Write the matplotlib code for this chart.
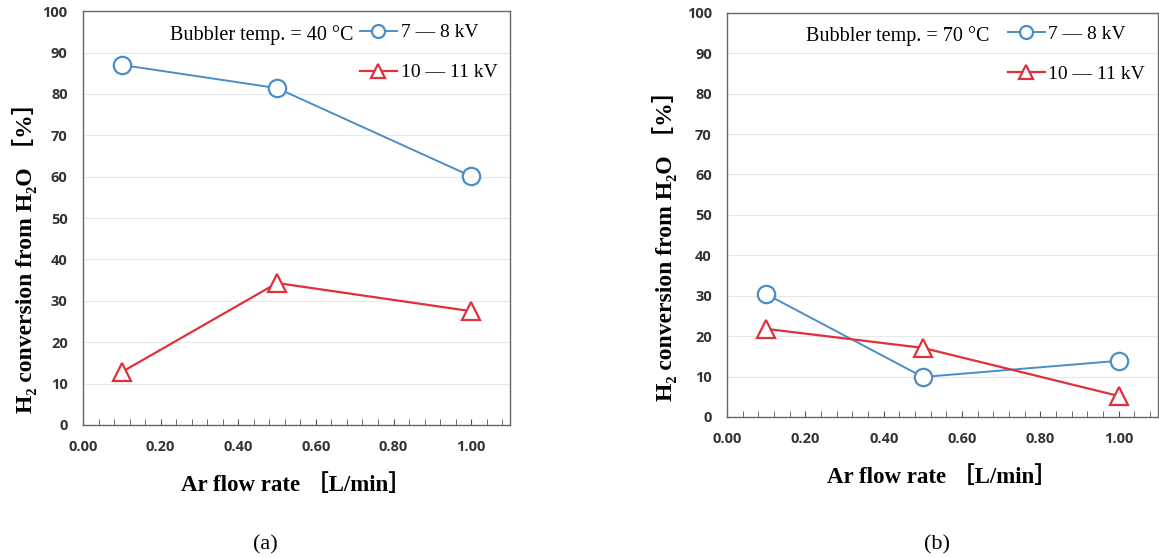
import numpy as np
import matplotlib.pyplot as plt
from matplotlib.ticker import MultipleLocator

flow = [0.1, 0.5, 1.0]

# bubbler temp 40 C
low_kv_40 = [87.0, 81.4, 60.1]
high_kv_40 = [12.8, 34.3, 27.5]

# bubbler temp 70 C
low_kv_70 = [30.4, 9.9, 13.9]
high_kv_70 = [21.8, 17.1, 5.2]

temps = ["40", "70"]
captions = ["(a)", "(b)"]
series = [(low_kv_40, high_kv_40), (low_kv_70, high_kv_70)]

blue = '#4b8dc8'
red = '#e0303c'
serif = ['Liberation Serif', 'Noto Sans CJK JP']

fig = plt.figure(figsize=(11.59, 5.58), dpi=100)
positions = [[0.0716, 0.2384, 0.3684, 0.7416], [0.6273, 0.2527, 0.3717, 0.7243]]
ylab_xy = [(-0.108, 0.418), (-0.116, 0.438)]
text_x = [0.634, 0.609]
cap_x = [0.2287, 0.8085]

for i in range(2):
    ax = fig.add_axes(positions[i])
    low, high = series[i]
    ax.plot(flow, low, color=blue, lw=1.4, marker='o', ms=12.5, mfc='white',
            mec=blue, mew=1.6, label='7 — 8 kV')
    ax.plot(flow, high, color=red, lw=1.6, marker='^', ms=12.5, mfc='white',
            mec=red, mew=1.6, label='10 — 11 kV')

    ax.set_xlim(0, 1.1)
    ax.set_ylim(0, 100)
    ax.set_xticks([0, 0.2, 0.4, 0.6, 0.8, 1.0])
    ax.set_xticklabels(['0.00', '0.20', '0.40', '0.60', '0.80', '1.00'])
    ax.xaxis.set_minor_locator(MultipleLocator(0.04))
    ax.set_yticks(np.arange(0, 101, 10))
    ax.yaxis.grid(True, color='#e8e8e8', lw=0.8)
    ax.set_axisbelow(True)
    ax.tick_params(axis='x', which='both', direction='in', length=4, color='#555555', pad=11)
    ax.tick_params(axis='y', length=0, pad=11)
    for lab in ax.get_xticklabels() + ax.get_yticklabels():
        lab.set_fontfamily('Open Sans')
        lab.set_fontweight('bold')
        lab.set_fontsize(10.5)
        lab.set_color('#333333')
    for sp in ax.spines.values():
        sp.set_color('#666666')
        sp.set_linewidth(1.0)

    ax.set_xlabel('Ar flow rate ［L/min］', family=serif, fontweight='bold',
                  fontsize=16.5, labelpad=14)
    ax.set_ylabel('H₂ conversion from H₂O ［%］', family=serif,
                  fontweight='bold', fontsize=17)
    ax.yaxis.set_label_coords(*ylab_xy[i])

    leg = ax.legend(loc='upper right', frameon=False, handlelength=1.9,
                    handletextpad=0.2, labelspacing=1.15, borderaxespad=0.25,
                    markerscale=0.75, prop={'family': 'Liberation Serif', 'size': 14})
    ax.text(text_x[i], 0.943, 'Bubbler temp. = ' + temps[i] + ' °C',
            transform=ax.transAxes, ha='right', va='center',
            family='Liberation Serif', fontsize=14.5)

    fig.text(cap_x[i], 0.023, captions[i], ha='center', va='center',
             family='Liberation Serif', fontsize=16)

fig.savefig('out.png', dpi=100)
